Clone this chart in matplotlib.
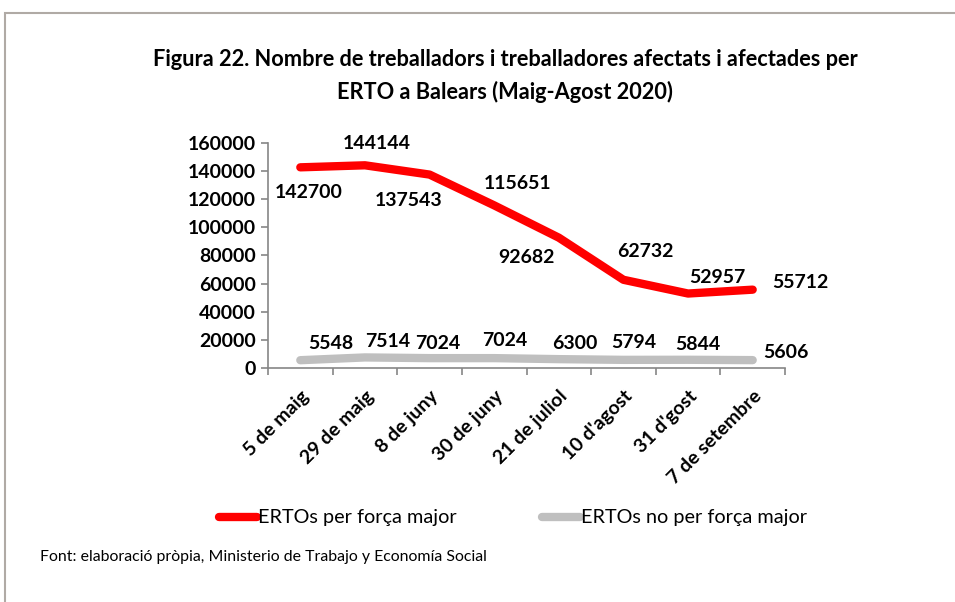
import numpy as np
import matplotlib
matplotlib.use('Agg')
import matplotlib.pyplot as plt
from matplotlib.patches import Rectangle

plt.rcParams['font.family'] = ['Lato', 'DejaVu Sans']

categories = ['5 de maig', '29 de maig', '8 de juny', '30 de juny', '21 de juliol',
              "10 d'agost", "31 d'gost", '7 de setembre']
forca_major = [142700, 144144, 137543, 115651, 92682, 62732, 52957, 55712]
no_forca_major = [5548, 7514, 7024, 7024, 6300, 5794, 5844, 5606]

# label offsets in pixels (Excel put them in odd places)
red_off = [(8, -25), (12, 22), (-21, -26), (23, 22), (-32, -20), (22, 28), (29, 16), (48, 7)]
grey_off = [(30, 17), (23, 16), (8, 15), (11, 18), (16, 16), (10, 17), (10, 15), (33, 8)]

fig = plt.figure(figsize=(9.55, 6.02), dpi=100)
ax = fig.add_axes([268 / 955, 234 / 602, 517 / 955, 225 / 602])

x = np.arange(len(categories))
l1, = ax.plot(x, forca_major, color='#ff0000', linewidth=6, solid_capstyle='round',
              solid_joinstyle='round', label='ERTOs per força major')
l2, = ax.plot(x, no_forca_major, color='#bfbfbf', linewidth=6, solid_capstyle='round',
              solid_joinstyle='round', label='ERTOs no per força major')

for i in range(len(x)):
    ax.annotate(str(forca_major[i]), (x[i], forca_major[i]), xytext=red_off[i],
                textcoords='offset pixels', ha='center', va='center',
                fontsize=14, fontweight='bold')
    ax.annotate(str(no_forca_major[i]), (x[i], no_forca_major[i]), xytext=grey_off[i],
                textcoords='offset pixels', ha='center', va='center',
                fontsize=14, fontweight='bold')

ax.set_xlim(-0.5, len(categories) - 0.5)
ax.set_ylim(0, 160000)
ax.set_yticks(np.arange(0, 160001, 20000))
ax.set_yticklabels([str(v) for v in range(0, 160001, 20000)], fontsize=14, fontweight='bold')
ax.set_xticks(x)
ax.set_xticklabels(categories, rotation=45, ha='right', rotation_mode='anchor',
                   fontsize=14, fontweight='bold')
ax.set_xticks(np.arange(-0.5, len(categories)), minor=True)
ax.tick_params(axis='x', which='major', length=0, pad=14)
ax.tick_params(axis='x', which='minor', length=5, color='#868686', width=1.2)
ax.tick_params(axis='y', length=5, color='#868686', width=1.2, pad=4)
for s in ['top', 'right']:
    ax.spines[s].set_visible(False)
for s in ['left', 'bottom']:
    ax.spines[s].set_color('#868686')
    ax.spines[s].set_linewidth(1.2)

fig.text(505 / 955, 1 - 60 / 602, 'Figura 22. Nombre de treballadors i treballadores afectats i afectades per',
         ha='center', va='center', fontsize=15.7, fontweight='bold')
fig.text(505 / 955, 1 - 92 / 602, 'ERTO a Balears (Maig-Agost 2020)',
         ha='center', va='center', fontsize=15.7, fontweight='bold')

fig.legend(handles=[l1, l2], loc='center', bbox_to_anchor=(513 / 955, 1 - 518 / 602),
           ncol=2, frameon=False, fontsize=14.3, handlelength=1.9, handletextpad=0.05,
           columnspacing=4.3)

fig.text(40 / 955, 1 - 557 / 602, 'Font: elaboració pròpia, Ministerio de Trabajo y Economía Social',
         ha='left', va='center', fontsize=11.4)

fig.patches.append(Rectangle((5 / 955, -0.1), 1.2, 0.1 + 1 - 13 / 602, transform=fig.transFigure,
                             fill=False, edgecolor='#b0aaa5', linewidth=1.5))

plt.savefig('out.png', dpi=100)
